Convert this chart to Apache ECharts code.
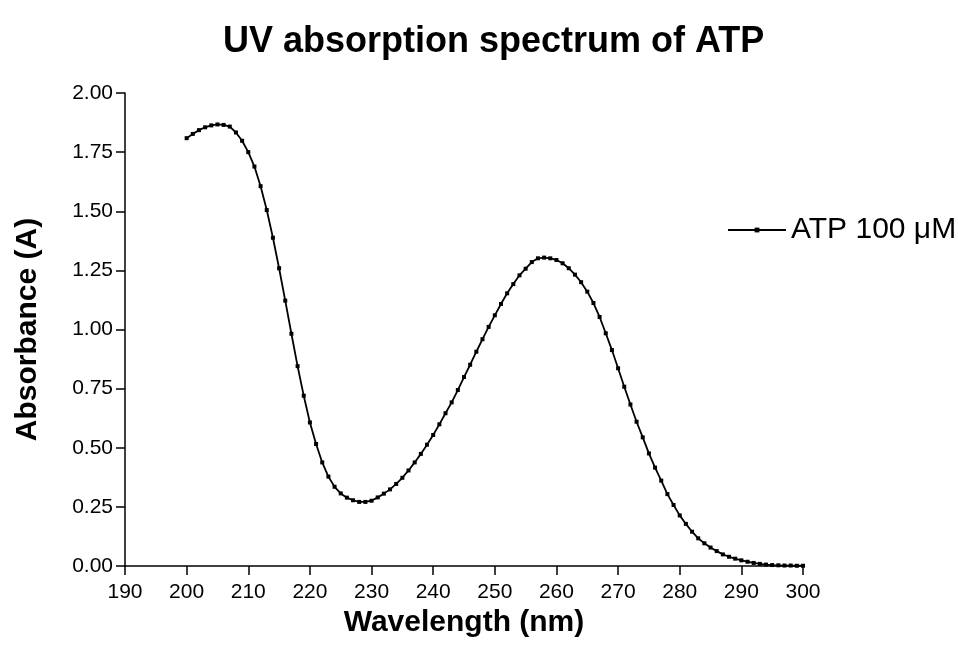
<!DOCTYPE html>
<html>
<head>
<meta charset="utf-8">
<script src="https://cdn.jsdelivr.net/npm/echarts@6/dist/echarts.min.js"></script>
<style>html,body{margin:0;padding:0;background:#fff;}#c{width:958px;height:657px;}</style>
</head>
<body>
<div id="c"></div>
<script>
// Wavelengths (nm)
var wavelengths = [];
for (var w = 200; w <= 300; w++) wavelengths.push(w);
// Absorbance of ATP 100 µM (one value per nm, 200..300)
var absorbance = [
  1.809, 1.827, 1.843, 1.855, 1.863, 1.867, 1.865, 1.858, 1.833, 1.798,
  1.750, 1.689, 1.606, 1.505, 1.388, 1.259, 1.122, 0.982, 0.845, 0.720,
  0.607, 0.516, 0.438, 0.378, 0.335, 0.307, 0.289, 0.278, 0.271, 0.271,
  0.276, 0.290, 0.306, 0.324, 0.347, 0.373, 0.404, 0.438, 0.474, 0.513,
  0.554, 0.599, 0.646, 0.692, 0.744, 0.799, 0.851, 0.906, 0.959, 1.011,
  1.060, 1.108, 1.153, 1.192, 1.229, 1.257, 1.285, 1.301, 1.304, 1.301,
  1.294, 1.280, 1.259, 1.232, 1.200, 1.160, 1.112, 1.053, 0.984, 0.913,
  0.836, 0.758, 0.683, 0.610, 0.544, 0.476, 0.416, 0.361, 0.304, 0.258,
  0.214, 0.178, 0.145, 0.117, 0.096, 0.078, 0.063, 0.049, 0.039, 0.031,
  0.024, 0.018, 0.013, 0.009, 0.006, 0.004, 0.003, 0.002, 0.002, 0.001,
  0.001
];
var seriesName = 'ATP 100 \u03BCM';
var titleText = 'UV absorption spectrum of ATP';
var xName = 'Wavelength (nm)';
var yName = 'Absorbance (A)';

var data = wavelengths.map(function (x, i) { return [x, absorbance[i]]; });
var FONT = '"Liberation Sans", Arial, Helvetica, sans-serif';

var chart = echarts.init(document.getElementById('c'), null, {renderer: 'canvas'});
chart.setOption({
  animation: false,
  backgroundColor: '#ffffff',
  title: {
    text: titleText,
    left: 218, top: 19,
    textStyle: {fontFamily: FONT, fontWeight: 'bold', fontSize: 36, color: '#000'}
  },
  legend: {
    data: [seriesName],
    left: 722, top: 210,
    itemWidth: 58, itemHeight: 6, itemGap: 6,
    textStyle: {fontFamily: FONT, fontSize: 30, color: '#000'}
  },
  grid: {left: 125, right: 155, top: 93, bottom: 91, containLabel: false},
  xAxis: {
    type: 'value', min: 190, max: 300, interval: 10,
    name: xName, nameLocation: 'middle', nameGap: 38,
    nameTextStyle: {fontFamily: FONT, fontWeight: 'bold', fontSize: 30, color: '#000'},
    axisLine: {show: true, onZero: false, lineStyle: {color: '#000', width: 1.5}},
    axisTick: {show: true, length: 9, lineStyle: {color: '#000', width: 1.5}},
    axisLabel: {fontFamily: FONT, fontSize: 21, color: '#000', margin: 16},
    splitLine: {show: false}
  },
  yAxis: {
    type: 'value', min: 0, max: 2, interval: 0.25,
    name: yName, nameLocation: 'middle', nameGap: 82,
    nameTextStyle: {fontFamily: FONT, fontWeight: 'bold', fontSize: 30, color: '#000'},
    axisLine: {show: true, lineStyle: {color: '#000', width: 1.5}},
    axisTick: {show: true, length: 9, lineStyle: {color: '#000', width: 1.5}},
    axisLabel: {fontFamily: FONT, fontSize: 21, color: '#000', margin: 12,
      formatter: function (v) { return v.toFixed(2); }},
    splitLine: {show: false}
  },
  series: [{
    name: seriesName,
    type: 'line',
    data: data,
    smooth: false,
    symbol: 'rect',
    symbolSize: 4,
    showSymbol: true,
    itemStyle: {color: '#000'},
    lineStyle: {color: '#000', width: 1.8}
  }]
});
</script>
</body>
</html>
